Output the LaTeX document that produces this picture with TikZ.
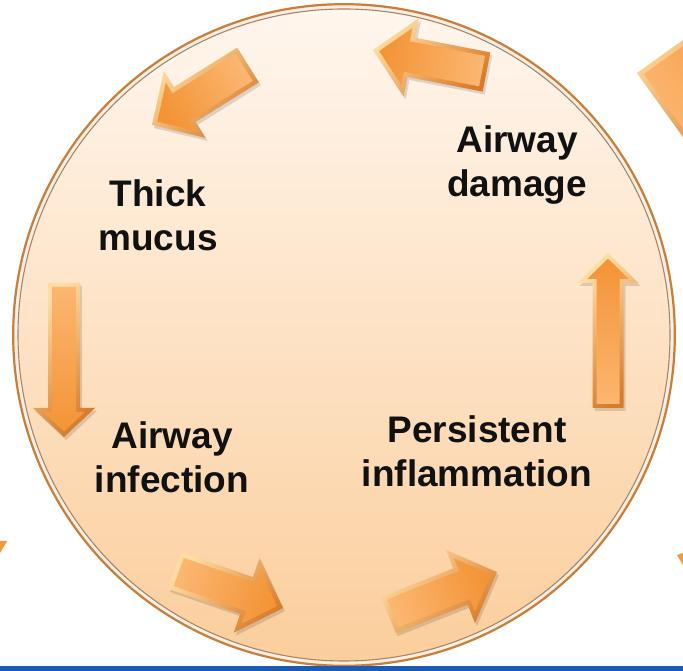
\documentclass[tikz,border=0pt]{standalone}
\usepackage{fontspec}
\setmainfont{Liberation Sans}
\usetikzlibrary{calc}
\definecolor{rimout}{HTML}{C97E3C}
\definecolor{rimgap}{HTML}{FBEFE3}
\definecolor{rimin}{HTML}{A98566}
\definecolor{circtop}{HTML}{FFF6EE}
\definecolor{circmid}{HTML}{FDE1C4}
\definecolor{circbot}{HTML}{FBCE9C}
\definecolor{bevlight}{HTML}{FFDDA2}
\definecolor{bevdark}{HTML}{D97C2A}
\definecolor{bodylight}{HTML}{FBB670}
\definecolor{bodydark}{HTML}{F39436}
\definecolor{arrorange}{HTML}{F59A40}
\definecolor{barblue}{HTML}{1A5CB5}
\definecolor{txt}{HTML}{111111}
\tikzset{
  label/.style={font=\fontsize{37}{44}\selectfont\bfseries, text=txt, align=center, inner sep=0pt},
}
% #1 name, #2 x, #3 y, #4 angle, #5 length, #6 half body, #7 half head, #8 head length, #9 bevel
\newcommand\bevarrow[9]{%
  \pgfmathsetmacro\bL{#5}\pgfmathsetmacro\bw{#6}\pgfmathsetmacro\bh{#7}%
  \pgfmathsetmacro\ba{#8}\pgfmathsetmacro\bd{#9}%
  \pgfmathsetmacro\bn{sqrt(\ba*\ba+\bh*\bh)}%
  \pgfmathsetmacro\bqy{\bh-\bd*(\bn+\bh)/\ba}%
  \pgfmathsetmacro\bqx{\bL-\bd*\bn/\bh}%
  \pgfmathsetmacro\bhb{\bL-\ba}%
  \pgfmathsetmacro\bhi{\bL-\ba+\bd}%
  \pgfmathsetmacro\bsa{#4+90}%
  \begin{scope}[shift={(#2,#3)},rotate=#4]
    \coordinate (#1-p1) at (0,\bw);
    \coordinate (#1-p2) at (\bhb,\bw);
    \coordinate (#1-p3) at (\bhb,\bh);
    \coordinate (#1-p4) at (\bL,0);
    \coordinate (#1-p5) at (\bhb,-\bh);
    \coordinate (#1-p6) at (\bhb,-\bw);
    \coordinate (#1-p7) at (0,-\bw);
    \coordinate (#1-q1) at (\bd,\bw-\bd);
    \coordinate (#1-q2) at (\bhi,\bw-\bd);
    \coordinate (#1-q3) at (\bhi,\bqy);
    \coordinate (#1-q4) at (\bqx,0);
    \coordinate (#1-q5) at (\bhi,-\bqy);
    \coordinate (#1-q6) at (\bhi,-\bw+\bd);
    \coordinate (#1-q7) at (\bd,-\bw+\bd);
  \end{scope}
  \fill[black,opacity=0.13,transform canvas={shift={(2,-3)}}]
    (#1-p1) -- (#1-p2) -- (#1-p3) -- (#1-p4) -- (#1-p5) -- (#1-p6) -- (#1-p7) -- cycle;
  \shade[top color=bevlight,bottom color=bevdark,shading angle=45]
    (#1-p1) -- (#1-p2) -- (#1-p3) -- (#1-p4) -- (#1-p5) -- (#1-p6) -- (#1-p7) -- cycle;
  \shade[top color=bodylight,bottom color=bodydark,shading angle=\bsa]
    (#1-q1) -- (#1-q2) -- (#1-q3) -- (#1-q4) -- (#1-q5) -- (#1-q6) -- (#1-q7) -- cycle;
}
\begin{document}
\begin{tikzpicture}[x=1pt,y=1pt]
\useasboundingbox (0,0) rectangle (683,671);
\fill[white] (0,0) rectangle (683,671);
\begin{scope}
\clip (0,0) rectangle (683,671);
% circle
\coordinate (C) at (344,336);
\fill[rimgap] (C) circle (332);
\draw[rimout,line width=2.2pt] (C) circle (330.8);
\shade[top color=circtop,middle color=circmid,bottom color=circbot] (C) circle (326);
\draw[rimin,line width=1.1pt] (C) circle (326);
% partial shapes at the edges
\begin{scope}[shift={(637,598)},rotate=35.7]
  \coordinate (e1) at (0,0);
  \coordinate (e2) at (130,0);
  \coordinate (e3) at (130,-90);
  \coordinate (e4) at (0,-90);
  \coordinate (e5) at (5,-5);
  \coordinate (e6) at (130,-5);
  \coordinate (e7) at (130,-90);
  \coordinate (e8) at (5,-90);
\end{scope}
\fill[black,opacity=0.13,transform canvas={shift={(2,-3)}}] (e1) -- (e2) -- (e3) -- (e4) -- cycle;
\shade[top color=bevlight,bottom color=bevdark,shading angle=45] (e1) -- (e2) -- (e3) -- (e4) -- cycle;
\shade[top color=bodylight,bottom color=bodydark,shading angle=125.7] (e5) -- (e6) -- (e7) -- (e8) -- cycle;
\coordinate (f1) at (0,130);
\coordinate (f2) at (7.3,130);
\coordinate (f3) at (0,118);
\fill[arrorange] (f1) -- (f2) -- (f3) -- cycle;
\coordinate (g1) at (677,116);
\coordinate (g2) at (684,118.5);
\coordinate (g3) at (684,104);
\fill[arrorange] (g1) -- (g2) -- (g3) -- cycle;
% cycle arrows
\bevarrow{a1}{486.5}{599}{169.0}{115.6}{20}{40}{39}{4.5}
\bevarrow{a2}{248}{606}{212.0}{113.2}{20.5}{39.5}{38.6}{4.5}
\bevarrow{a3}{64}{388}{270}{154}{16}{31}{29}{4}
\bevarrow{a4}{174.5}{100.5}{-19.1}{114.8}{19.5}{39.5}{38.5}{4.5}
\bevarrow{a5}{388.5}{56}{21.6}{116.7}{19.5}{39.3}{39.3}{4.5}
\bevarrow{a6}{608}{263}{90}{155}{15.5}{30.5}{30}{4}
% labels
\node[label] (mucus) at (158,456) {Thick\\mucus};
\node[label] (damage) at (517,506) {Airway\\damage};
\node[label] (infection) at (172,214) {Airway\\infection};
\node[label] (inflam) at (477,220) {Persistent\\inflammation};
% bottom bar
\fill[barblue] (0,0) rectangle (683,4.5);
\end{scope}
\end{tikzpicture}
\end{document}
